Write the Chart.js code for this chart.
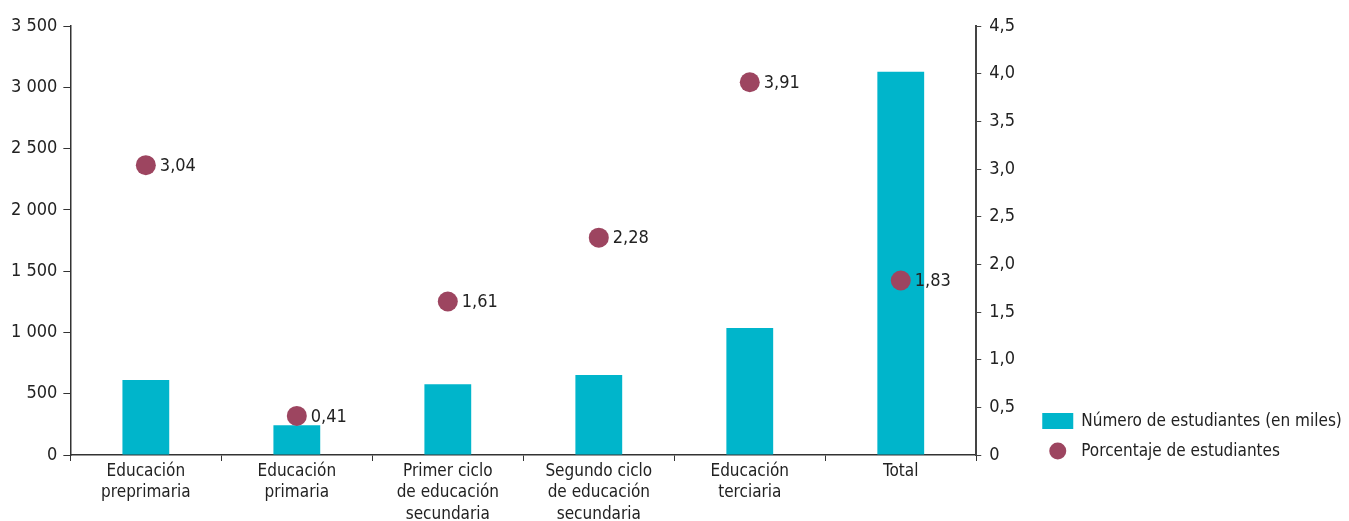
<!DOCTYPE html>
<html>
<head>
<meta charset="utf-8">
<script src="https://cdn.jsdelivr.net/npm/chart.js@4/dist/chart.umd.min.js"></script>
<style>
  html, body { margin: 0; padding: 0; background: #fff; }
  #wrap { width: 1349px; height: 521px; position: relative; }
</style>
</head>
<body>
<div id="wrap"><canvas id="chart"></canvas></div>
<script>
// ---- data ----
const categories = [
    ['Educación', 'preprimaria'],
    ['Educación', 'primaria'],
    ['Primer ciclo', 'de educación', 'secundaria'],
    ['Segundo ciclo', 'de educación', 'secundaria'],
    ['Educación', 'terciaria'],
    'Total'
];
const studentsThousands = [612, 243, 578, 652, 1036, 3126];
const studentsPercent = [3.04, 0.41, 1.61, 2.28, 3.91, 1.83];
const leftTicks = [0, 500, 1000, 1500, 2000, 2500, 3000, 3500];
const rightTicks = [0, 0.5, 1, 1.5, 2, 2.5, 3, 3.5, 4, 4.5];
const legendLabels = ['Número de estudiantes (en miles)', 'Porcentaje de estudiantes'];

const FONT = "'DejaVu Sans Condensed', 'Liberation Sans Narrow', 'Roboto', sans-serif";
const TEXT = '#222';
const AXIS = '#333';
const BAR = '#00B5CB';
const DOT = '#9D4560';

Chart.defaults.font.family = FONT;
Chart.defaults.font.size = 18;
Chart.defaults.color = TEXT;

// ---- helpers ----
function fmtThousands(v) {
    return String(v).replace(/\B(?=(\d{3})+(?!\d))/g, ' ');
}
function fmtComma(v, d) {
    if (v === 0) return '0';
    return v.toFixed(d).replace('.', ',');
}

// labels next to the dots
const pointLabels = {
    id: 'pointLabels',
    afterDatasetsDraw(chart) {
        const ctx = chart.ctx;
        const meta = chart.getDatasetMeta(1);
        ctx.save();
        ctx.font = '18px ' + FONT;
        ctx.fillStyle = TEXT;
        ctx.textBaseline = 'middle';
        ctx.textAlign = 'left';
        meta.data.forEach((pt, i) => {
            ctx.fillText(fmtComma(studentsPercent[i], 2), pt.x + 14, pt.y + 1);
        });
        ctx.restore();
    }
};

// legend in the lower right corner
const cornerLegend = {
    id: 'cornerLegend',
    afterDraw(chart) {
        const ctx = chart.ctx;
        const x = chart.chartArea.right + 66;
        const y0 = chart.chartArea.bottom - 34;
        ctx.save();
        ctx.fillStyle = BAR;
        ctx.fillRect(x, y0 - 8, 31, 16);
        ctx.fillStyle = DOT;
        ctx.beginPath();
        ctx.arc(x + 15.5, y0 + 30, 8.5, 0, Math.PI * 2);
        ctx.fill();
        ctx.font = '17px ' + FONT;
        ctx.fillStyle = TEXT;
        ctx.textBaseline = 'middle';
        ctx.fillText(legendLabels[0], x + 39, y0 + 1);
        ctx.fillText(legendLabels[1], x + 39, y0 + 31);
        ctx.restore();
    }
};

new Chart(document.getElementById('chart'), {
    type: 'bar',
    data: {
        labels: categories,
        datasets: [
            {
                label: legendLabels[0],
                data: studentsThousands,
                backgroundColor: BAR,
                yAxisID: 'y',
                categoryPercentage: 1,
                barPercentage: 0.31,
                order: 2
            },
            {
                type: 'line',
                label: legendLabels[1],
                data: studentsPercent,
                showLine: false,
                pointRadius: 10,
                pointHoverRadius: 10,
                pointBackgroundColor: DOT,
                pointBorderWidth: 0,
                backgroundColor: DOT,
                yAxisID: 'y1',
                order: 1
            }
        ]
    },
    options: {
        responsive: true,
        maintainAspectRatio: false,
        animation: false,
        layout: { padding: { top: 26, left: 5, right: 326, bottom: 0 } },
        plugins: {
            tooltip: { enabled: false },
            legend: { display: false }
        },
        scales: {
            x: {
                offset: true,
                afterFit(scale) { scale.height = 66; },
                grid: {
                    offset: true,
                    drawOnChartArea: false,
                    drawTicks: true,
                    tickLength: 6,
                    color: AXIS
                },
                border: { color: AXIS, width: 1.5 },
                ticks: { padding: 0, maxRotation: 0, autoSkip: false, font: { size: 17, lineHeight: 1.25 } }
            },
            y: {
                position: 'left',
                min: 0,
                max: 3500,
                afterBuildTicks(axis) { axis.ticks = leftTicks.map(v => ({ value: v })); },
                grid: { drawOnChartArea: false, drawTicks: true, tickLength: 7, color: AXIS },
                border: { color: AXIS, width: 1.5 },
                ticks: { padding: 6, callback: v => fmtThousands(v) }
            },
            y1: {
                position: 'right',
                min: 0,
                max: 4.5,
                afterBuildTicks(axis) { axis.ticks = rightTicks.map(v => ({ value: v })); },
                grid: { drawOnChartArea: false, drawTicks: true, tickLength: 5, color: '#444' },
                border: { color: '#444', width: 2 },
                ticks: { padding: 8, callback: v => fmtComma(v, 1) }
            }
        }
    },
    plugins: [pointLabels, cornerLegend]
});
</script>
</body>
</html>
